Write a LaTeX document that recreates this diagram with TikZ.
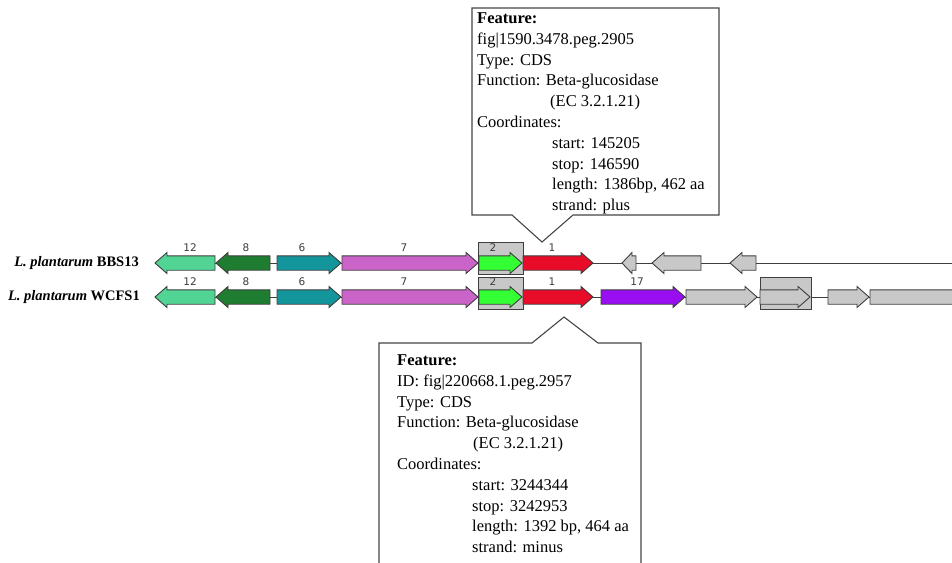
\documentclass[tikz,border=0pt]{standalone}
\usepackage{fontspec}
\setmainfont{Liberation Serif}
\newfontfamily\numfont{DejaVu Sans}

\definecolor{gA}{RGB}{82,212,148}   % gene 12
\definecolor{gB}{RGB}{30,125,48}    % gene 8
\definecolor{gC}{RGB}{18,150,156}   % gene 6
\definecolor{gD}{RGB}{202,100,200}  % gene 7
\definecolor{gE}{RGB}{52,255,52}    % gene 2
\definecolor{gF}{RGB}{232,12,40}    % gene 1
\definecolor{gG}{RGB}{152,14,240}   % gene 17
\definecolor{gH}{RGB}{200,200,200}  % other genes
\definecolor{edgegray}{RGB}{62,62,62}
\definecolor{numgray}{RGB}{60,60,60}
\definecolor{boxgray}{RGB}{70,70,70}

\tikzset{
  gene/.style={draw=edgegray, line width=0.9pt, line join=miter},
  backbone/.style={draw=edgegray, line width=0.8pt},
  genenum/.style={font=\numfont\fontsize{10.5}{12}\selectfont, text=numgray, inner sep=0pt},
  hilite/.style={draw=edgegray, fill=gH, line width=0.9pt},
  calloutbox/.style={draw=boxgray, fill=white, line width=1.1pt, line join=miter},
  calltext/.style={font=\fontsize{16.5}{20}\selectfont, anchor=base west, inner sep=0pt},
  strain/.style={font=\fontsize{14.5}{16}\selectfont\bfseries, anchor=east, inner sep=0pt}
}

% gene arrows: #1 left x, #2 right x, #3 centre y, #4 fill, #5 head length
\newcommand\generight[5]{%
  \filldraw[gene, fill=#4] (#1,{#3-7.2}) -- ({#2-#5},{#3-7.2}) -- ({#2-#5},{#3-10.5})
    -- (#2,#3) -- ({#2-#5},{#3+10.5}) -- ({#2-#5},{#3+7.2}) -- (#1,{#3+7.2}) -- cycle;}
\newcommand\geneleft[5]{%
  \filldraw[gene, fill=#4] (#2,{#3-7.2}) -- ({#1+#5},{#3-7.2}) -- ({#1+#5},{#3-10.5})
    -- (#1,#3) -- ({#1+#5},{#3+10.5}) -- ({#1+#5},{#3+7.2}) -- (#2,{#3+7.2}) -- cycle;}

\begin{document}
\begin{tikzpicture}[x=1pt,y=-1pt]
  \clip (0,0) rectangle (952,562);
  \fill[white] (0,0) rectangle (952,562);

  % strain names
  \node[strain] (s1) at (139,263) {\textit{L. plantarum} BBS13};
  \node[strain] (s2) at (140,297) {\textit{L. plantarum} WCFS1};

  % backbones
  \coordinate (b1l) at (215,263); \coordinate (b1r) at (960,263);
  \coordinate (b2l) at (215,297); \coordinate (b2r) at (960,297);
  \draw[backbone] (b1l) -- (b1r);
  \draw[backbone] (b2l) -- (b2r);

  % ---- row 1 : BBS13 ----
  \geneleft{155}{215}{263}{gA}{12}
  \geneleft{216}{270}{263}{gB}{12}
  \generight{277}{341}{263}{gC}{12}
  \generight{342}{478}{263}{gD}{12}
  \filldraw[hilite] (478,242) rectangle (523,274);
  \generight{479}{522}{263}{gE}{12}
  \generight{523}{593}{263}{gF}{12}
  \geneleft{622}{636}{263}{gH}{10}
  \geneleft{652}{701}{263}{gH}{12}
  \geneleft{730}{756}{263}{gH}{12}

  % ---- row 2 : WCFS1 ----
  \geneleft{155}{215}{297}{gA}{12}
  \geneleft{216}{270}{297}{gB}{12}
  \generight{277}{341}{297}{gC}{12}
  \generight{342}{478}{297}{gD}{12}
  \filldraw[hilite] (478,277) rectangle (523,309);
  \generight{479}{522}{297}{gE}{12}
  \generight{523}{593}{297}{gF}{12}
  \generight{601}{685}{297}{gG}{12}
  \generight{686}{757}{297}{gH}{12}
  \filldraw[hilite] (760,277) rectangle (811,309);
  \generight{760}{810}{297}{gH}{12}
  \generight{828}{869}{297}{gH}{12}
  \generight{870}{1000}{297}{gH}{12}

  % gene numbers
  \node[genenum] (n12a) at (190,248) {12};
  \node[genenum] (n8a)  at (246,248) {8};
  \node[genenum] (n6a)  at (302,248) {6};
  \node[genenum] (n7a)  at (404,248) {7};
  \node[genenum] (n2a)  at (493,248) {2};
  \node[genenum] (n1a)  at (552,248) {1};
  \node[genenum] (n12b) at (190,282) {12};
  \node[genenum] (n8b)  at (246,282) {8};
  \node[genenum] (n6b)  at (302,282) {6};
  \node[genenum] (n7b)  at (404,282) {7};
  \node[genenum] (n2b)  at (493,282) {2};
  \node[genenum] (n1b)  at (552,282) {1};
  \node[genenum] (n17)  at (637,282) {17};

  % upper callout
  \filldraw[calloutbox] (472,8) -- (719,8) -- (719,215) -- (573,215) -- (542,242)
    -- (512,215) -- (472,215) -- cycle;
  \node[calltext] (ua) at (477,23.5)  {\textbf{Feature:}};
  \node[calltext] (ub) at (477,44.3)  {fig|1590.3478.peg.2905};
  \node[calltext] (uc) at (477,65.1)  {Type: CDS};
  \node[calltext] (ud) at (477,85.9)  {Function: Beta-glucosidase};
  \node[calltext] (ue) at (550,106.7) {(EC 3.2.1.21)};
  \node[calltext] (uf) at (477,127.5) {Coordinates:};
  \node[calltext] (ug) at (552,148.3) {start: 145205};
  \node[calltext] (uh) at (552,169.1) {stop: 146590};
  \node[calltext] (ui) at (552,189.9) {length: 1386bp, 462 aa};
  \node[calltext] (uj) at (552,210.7) {strand: plus};

  % lower callout
  \filldraw[calloutbox] (379,580) -- (379,343) -- (532,343) -- (564,317) -- (598,343)
    -- (641,343) -- (641,580);
  \node[calltext] (la) at (397,365.5) {\textbf{Feature:}};
  \node[calltext] (lb) at (397,386.3) {ID: fig|220668.1.peg.2957};
  \node[calltext] (lc) at (397,407.1) {Type: CDS};
  \node[calltext] (ld) at (397,427.9) {Function: Beta-glucosidase};
  \node[calltext] (le) at (473,448.7) {(EC 3.2.1.21)};
  \node[calltext] (lf) at (397,469.5) {Coordinates:};
  \node[calltext] (lg) at (472,490.3) {start: 3244344};
  \node[calltext] (lh) at (472,511.1) {stop: 3242953};
  \node[calltext] (li) at (472,531.9) {length: 1392 bp, 464 aa};
  \node[calltext] (lj) at (472,552.7) {strand: minus};
\end{tikzpicture}
\end{document}
